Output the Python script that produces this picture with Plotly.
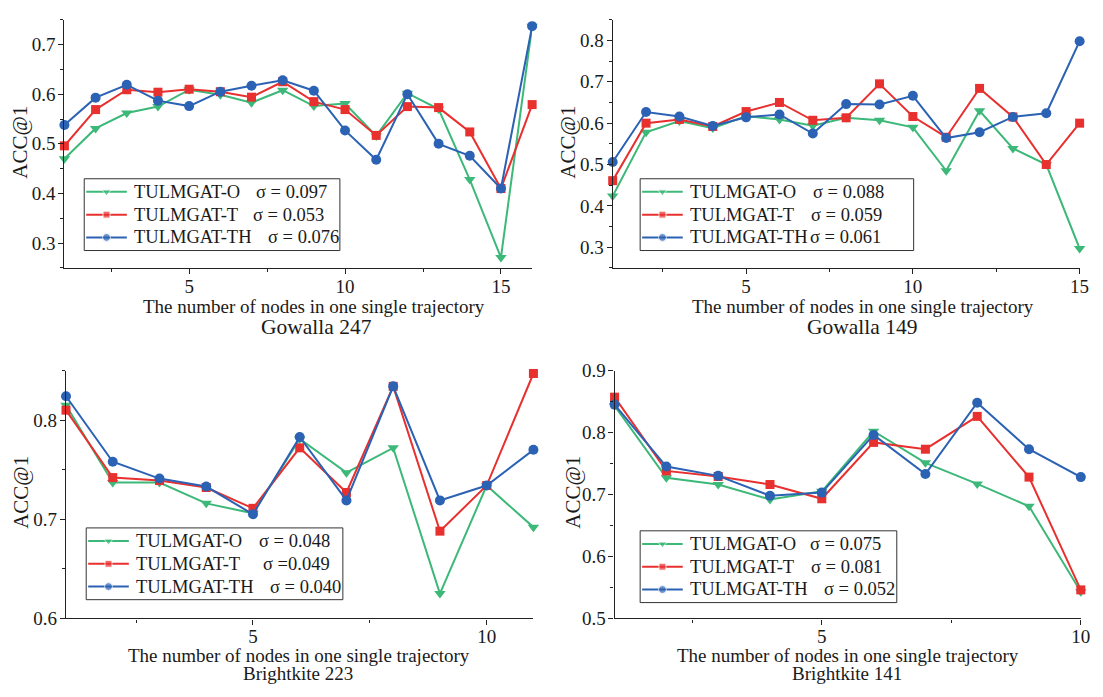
import plotly.graph_objects as go

# ---------------- data ----------------
series_names = ["TULMGAT-O", "TULMGAT-T", "TULMGAT-TH"]

# Gowalla 247
g247_x = list(range(1, 17))
g247_O = [0.470, 0.531, 0.562, 0.575, 0.609, 0.599, 0.583, 0.608, 0.576, 0.581, 0.516, 0.602, 0.570, 0.428, 0.271, 0.737]
g247_T = [0.496, 0.569, 0.609, 0.604, 0.610, 0.605, 0.594, 0.625, 0.585, 0.569, 0.517, 0.575, 0.573, 0.524, 0.410, 0.579]
g247_TH = [0.538, 0.593, 0.619, 0.587, 0.576, 0.605, 0.617, 0.628, 0.607, 0.527, 0.468, 0.600, 0.500, 0.476, 0.410, 0.737]
g247_sigma = ["σ = 0.097", "σ = 0.053", "σ = 0.076"]

# Gowalla 149
g149_x = list(range(1, 16))
g149_O = [0.424, 0.578, 0.605, 0.588, 0.617, 0.609, 0.594, 0.613, 0.607, 0.590, 0.485, 0.630, 0.539, 0.500, 0.297]
g149_T = [0.461, 0.600, 0.609, 0.592, 0.628, 0.650, 0.607, 0.613, 0.695, 0.616, 0.566, 0.684, 0.615, 0.500, 0.600]
g149_TH = [0.506, 0.627, 0.616, 0.593, 0.614, 0.621, 0.575, 0.646, 0.645, 0.666, 0.564, 0.578, 0.615, 0.624, 0.798]
g149_sigma = ["σ = 0.088", "σ = 0.059", "σ = 0.061"]

# Brightkite 223
b223_x = list(range(1, 12))
b223_O = [0.815, 0.737, 0.737, 0.716, 0.706, 0.781, 0.747, 0.772, 0.625, 0.734, 0.692]
b223_T = [0.810, 0.742, 0.739, 0.732, 0.711, 0.772, 0.727, 0.834, 0.688, 0.734, 0.847]
b223_TH = [0.824, 0.758, 0.741, 0.733, 0.705, 0.783, 0.719, 0.834, 0.719, 0.734, 0.770]
b223_sigma = ["σ = 0.048", "σ =0.049", "σ = 0.040"]

# Brightkite 141
b141_x = list(range(1, 11))
b141_O = [0.843, 0.727, 0.716, 0.692, 0.705, 0.802, 0.751, 0.717, 0.681, 0.543]
b141_T = [0.857, 0.738, 0.729, 0.716, 0.693, 0.784, 0.773, 0.826, 0.728, 0.546]
b141_TH = [0.845, 0.745, 0.730, 0.698, 0.703, 0.796, 0.733, 0.848, 0.773, 0.728]
b141_sigma = ["σ = 0.075", "σ = 0.081", "σ = 0.052"]

panel_titles = ["Gowalla 247", "Gowalla 149", "Brightkite 223", "Brightkite 141"]
x_label = "The number of nodes in one single trajectory"
y_label = "ACC@1"

# ---------------- styling / layout (pixel positions) ----------------
W, H = 1103, 697
FONT = "Liberation Serif"
TXT = "#1a1a1a"
colors = ["#3cb878", "#e8302f", "#2b62b4"]
symbols = ["triangle-down", "square", "circle"]
msizes = [10, 9, 10]
leg_msizes = [8, 7, 8]

panels = [
    dict(x=g247_x, ys=[g247_O, g247_T, g247_TH], sig=g247_sigma,
         px=(65, 537), py=(10, 266), xr=[1, 16], yr=[0.25, 0.75],
         box=(85, 174, 343, 248), sigx=[256, 253, 268], sub_size=21.5,
         ylab=(20, 136), xlab=(317, 306), sub=(319, 327)),
    dict(x=g149_x, ys=[g149_O, g149_T, g149_TH], sig=g149_sigma,
         px=(618.3, 1089.5), py=(10, 266), xr=[1, 15], yr=[0.25, 0.85],
         box=(646, 174, 922, 248), sigx=[818, 816, 815], sub_size=21.5,
         ylab=(573, 136), xlab=(871, 306), sub=(870, 327)),
    dict(x=b223_x, ys=[b223_O, b223_T, b223_TH], sig=b223_sigma,
         px=(66.6, 538.3), py=(371.7, 627.3), xr=[1, 11], yr=[0.6, 0.85],
         box=(87, 534, 346, 608), sigx=[259, 263, 270], sub_size=19,
         ylab=(21, 497), xlab=(302, 666), sub=(301, 684)),
    dict(x=b141_x, ys=[b141_O, b141_T, b141_TH], sig=b141_sigma,
         px=(620.2, 1090.7), py=(371.7, 627.3), xr=[1, 10], yr=[0.5, 0.9],
         box=(646, 537, 905, 611), sigx=[815, 816, 830], sub_size=19,
         ylab=(578, 497), xlab=(856, 666), sub=(855, 684)),
]
ROW_OFF = [13.5, 37, 60.5]   # legend row offsets from box top (px)
LINE_OFF = (2, 43)           # legend sample line start/end from box left (px)
TEXT_OFF = 48                # legend text start from box left (px)

fig = go.Figure()
layout = dict(
    width=W, height=H,
    margin=dict(l=0, r=0, t=0, b=0),
    paper_bgcolor="white", plot_bgcolor="rgba(0,0,0,0)",
    font=dict(family=FONT, size=19, color=TXT),
    showlegend=False,
)
annotations, shapes = [], []

axis_common = dict(
    showline=True, linecolor="#222", linewidth=1.3, showgrid=False, zeroline=False,
    ticks="outside", ticklen=5, tickwidth=1.2, tickcolor="#222",
    tickfont=dict(family=FONT, size=19, color=TXT),
)
minor_common = dict(ticks="outside", ticklen=3, tickwidth=1.1, tickcolor="#222", showgrid=False)

for i, p in enumerate(panels):
    k = "" if i == 0 else str(i + 1)
    xa, ya = "x" + k, "y" + k
    for j in range(3):
        fig.add_trace(go.Scatter(
            x=p["x"], y=p["ys"][j], mode="lines+markers",
            name=series_names[j] + " " + p["sig"][j],
            line=dict(color=colors[j], width=2),
            marker=dict(symbol=symbols[j], size=msizes[j], color=colors[j]),
            xaxis=xa, yaxis=ya, cliponaxis=False,
        ))
    layout["xaxis" + k] = dict(
        axis_common, domain=[p["px"][0] / W, p["px"][1] / W], range=p["xr"],
        tick0=0, dtick=5, anchor=ya, ticklabelstandoff=-4,
        minor=dict(minor_common, tick0=0, dtick=2.5),
    )
    layout["yaxis" + k] = dict(
        axis_common, domain=[1 - p["py"][1] / H, 1 - p["py"][0] / H], range=p["yr"],
        tick0=0, dtick=0.1, tickformat=".1f", anchor=xa, ticklabelstandoff=-1,
        minor=dict(minor_common, tick0=0, dtick=0.05),
    )
    annotations.append(dict(
        text=y_label, x=p["ylab"][0] / W, y=1 - p["ylab"][1] / H, xref="paper", yref="paper",
        showarrow=False, textangle=-90, font=dict(family=FONT, size=21, color=TXT),
        xanchor="center", yanchor="middle"))
    annotations.append(dict(
        text=x_label, x=p["xlab"][0] / W, y=1 - p["xlab"][1] / H, xref="paper", yref="paper",
        showarrow=False, font=dict(family=FONT, size=19, color=TXT),
        xanchor="center", yanchor="middle"))
    annotations.append(dict(
        text=panel_titles[i], x=p["sub"][0] / W, y=1 - p["sub"][1] / H, xref="paper", yref="paper",
        showarrow=False, font=dict(family=FONT, size=p["sub_size"], color=TXT),
        xanchor="center", yanchor="middle"))

    # ---- legend box (drawn manually for exact row spacing) ----
    bx0, by0, bx1, by1 = p["box"]
    shapes.append(dict(type="rect", xref="paper", yref="paper",
                       x0=bx0 / W, x1=bx1 / W, y0=1 - by1 / H, y1=1 - by0 / H,
                       line=dict(color="#333", width=1), fillcolor="rgba(0,0,0,0)", layer="above"))
    for j in range(3):
        ry = by0 + ROW_OFF[j]
        lx0, lx1 = bx0 + LINE_OFF[0], bx0 + LINE_OFF[1]
        fig.add_trace(go.Scatter(
            x=[lx0, (lx0 + lx1) / 2, lx1], y=[ry, ry, ry], mode="lines+markers",
            line=dict(color=colors[j], width=2),
            marker=dict(symbol=symbols[j], size=[0, leg_msizes[j], 0], color=colors[j]),
            xaxis="x5", yaxis="y5", hoverinfo="skip", showlegend=False,
        ))
        annotations.append(dict(
            text=series_names[j], x=(bx0 + TEXT_OFF) / W, y=1 - ry / H, xref="paper", yref="paper",
            showarrow=False, font=dict(family=FONT, size=18.5, color=TXT),
            xanchor="left", yanchor="middle"))
        annotations.append(dict(
            text=p["sig"][j], x=p["sigx"][j] / W, y=1 - ry / H, xref="paper", yref="paper",
            showarrow=False, font=dict(family=FONT, size=18.5, color=TXT),
            xanchor="left", yanchor="middle"))

# overlay pixel axis used only for the legend samples
layout["xaxis5"] = dict(domain=[0, 1], range=[0, W], visible=False, anchor="y5", fixedrange=True)
layout["yaxis5"] = dict(domain=[0, 1], range=[H, 0], visible=False, anchor="x5", fixedrange=True)

layout["annotations"] = annotations
layout["shapes"] = shapes
fig.update_layout(**layout)
fig.write_html("out.html")
